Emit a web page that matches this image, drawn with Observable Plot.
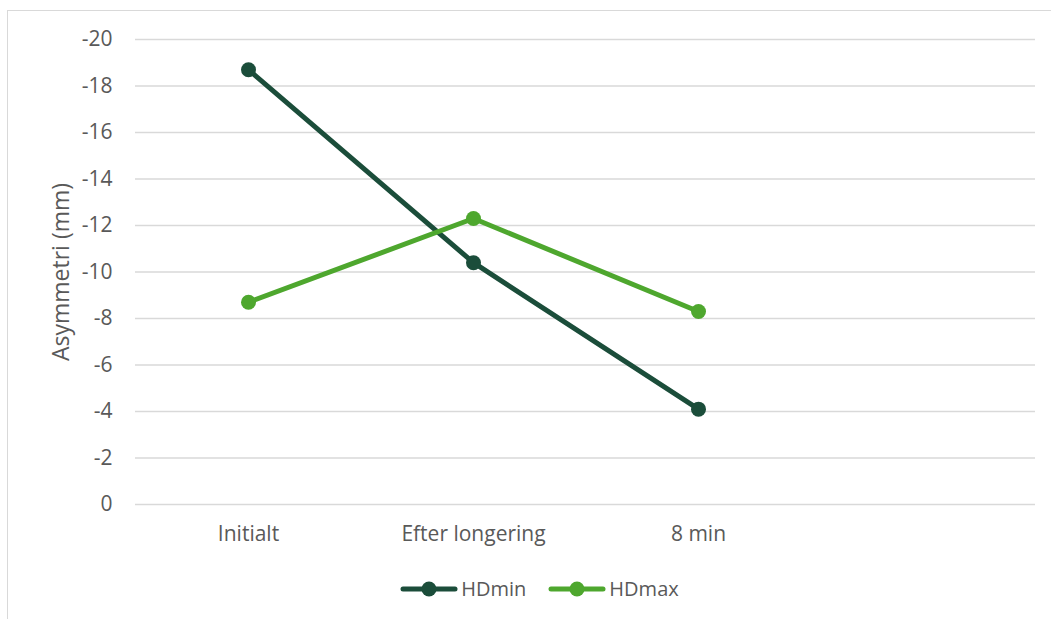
<!DOCTYPE html>
<html>
<head>
<meta charset="utf-8">
<script src="https://cdn.jsdelivr.net/npm/d3@7"></script>
<script src="https://cdn.jsdelivr.net/npm/@observablehq/plot@0.6"></script>
<style>
  html, body { margin: 0; padding: 0; background: #fff; }
  body { width: 1051px; height: 619px; position: relative; overflow: hidden; font-family: "Open Sans", sans-serif; }
  #frame { position: absolute; left: 7px; top: 10px; width: 1060px; height: 640px; border: 1.5px solid #d9d9d9; box-sizing: border-box; }
  #chart { position: absolute; left: 0; top: 0; }
  #legend { position: absolute; left: 14px; top: 575px; width: 1051px; display: flex; justify-content: center; font-size: 20px; color: #595959; }
  .item { display: flex; align-items: center; margin: 0 11px; }
  .item svg { display: block; margin-right: 3px; }
</style>
</head>
<body>
<div id="frame"></div>
<div id="chart"></div>
<div id="legend"></div>
<script>
const categories = ["Initialt", "Efter longering", "8 min"];
const seriesNames = ["HDmin", "HDmax"];
const hdmin = [-18.7, -10.4, -4.1];
const hdmax = [-8.7, -12.3, -8.3];
const yTicks = [-20, -18, -16, -14, -12, -10, -8, -6, -4, -2, 0];
const yLabel = "Asymmetri (mm)";
const colors = ["#1b4d3a", "#4ea72e"];

const data = [];
[hdmin, hdmax].forEach((vals, s) => {
  vals.forEach((v, i) => data.push({series: seriesNames[s], cat: categories[i], value: v}));
});

const xDomain = [...categories, " "];

const chart = Plot.plot({
  width: 1051,
  height: 565,
  marginLeft: 135,
  marginRight: 16,
  marginTop: 39,
  marginBottom: 61,
  style: {fontFamily: "'Open Sans', sans-serif", fontSize: "21px", color: "#595959", background: "transparent"},
  x: {type: "point", domain: xDomain, padding: 0.5, axis: null},
  y: {domain: [0, -20], axis: null},
  color: {domain: seriesNames, range: colors},
  marks: [
    Plot.ruleY(yTicks, {stroke: "#d9d9d9", strokeWidth: 1.5}),
    Plot.axisY(yTicks, {tickSize: 0, tickPadding: 23, tickFormat: d => String(d), fill: "#595959", fontSize: 21, label: null}),
    Plot.axisX(categories, {tickSize: 0, tickPadding: 22, fill: "#595959", fontSize: 21, label: null}),
    Plot.text([yLabel], {frameAnchor: "left", dx: -74, rotate: -90, textAnchor: "middle", fill: "#595959", fontSize: 23}),
    Plot.line(data, {x: "cat", y: "value", z: "series", stroke: "series", strokeWidth: 5, strokeLinecap: "round", strokeLinejoin: "round"}),
    Plot.dot(data, {x: "cat", y: "value", fill: "series", r: 7.5, stroke: "none"})
  ]
});
document.getElementById("chart").appendChild(chart);

const legend = document.getElementById("legend");
seriesNames.forEach((name, i) => {
  const item = document.createElement("div");
  item.className = "item";
  item.innerHTML = `<svg width="58" height="20"><line x1="3" y1="10" x2="55" y2="10" stroke="${colors[i]}" stroke-width="5" stroke-linecap="round"/><circle cx="29" cy="10" r="7.5" fill="${colors[i]}"/></svg><span>${name}</span>`;
  legend.appendChild(item);
});
</script>
</body>
</html>
